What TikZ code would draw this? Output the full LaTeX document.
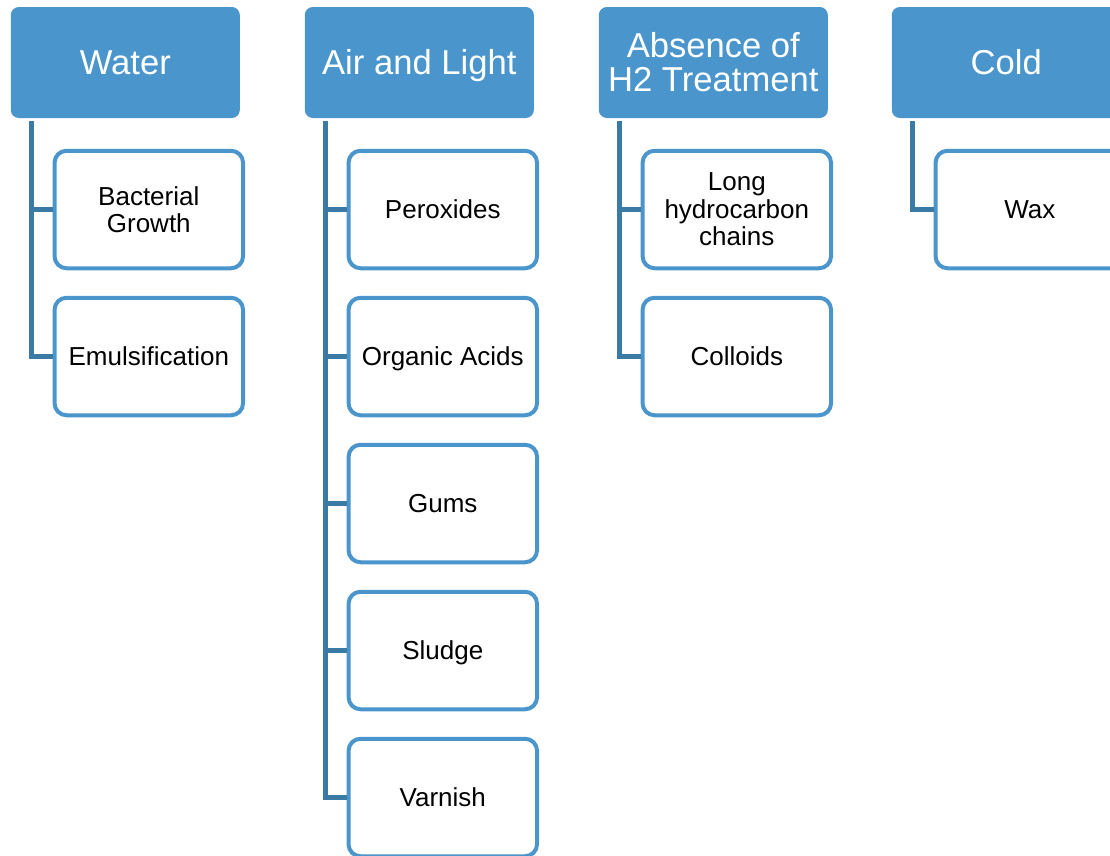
\documentclass[tikz,border=0pt]{standalone}
\usepackage{fontspec}
\setmainfont{Liberation Sans}
\usetikzlibrary{positioning}
\definecolor{headblue}{RGB}{74,150,204}
\definecolor{linkblue}{RGB}{60,122,166}

\begin{document}
\begin{tikzpicture}[x=1pt,y=-1pt,
  head/.style={rectangle,rounded corners=8pt,fill=headblue,draw=none,text=white,minimum width=229pt,minimum height=111pt,inner sep=0pt,align=center,font=\fontsize{34.6}{34}\selectfont},
  headone/.style={head,execute at begin node=\rule[-8pt]{0pt}{40.8pt},execute at end node=\rule[-8pt]{0pt}{40.8pt}},
  item/.style={rectangle,rounded corners=12pt,fill=white,draw=headblue,line width=4pt,minimum width=188.5pt,minimum height=117.5pt,inner sep=0pt,align=center,font=\fontsize{26}{27.5}\selectfont},
  itemone/.style={item,execute at begin node=\rule[-6pt]{0pt}{30.6pt},execute at end node=\rule[-6pt]{0pt}{30.6pt}},
  link/.style={draw=linkblue,line width=5pt}]
\useasboundingbox (0,0) rectangle (1110,855);
\clip (0,0) rectangle (1110,855);

% headers
\node[headone] (W) at (125.3,62.5) {Water};
\node[headone] (A) at (419.3,62.5) {Air and Light};
\node[head] (H) at (713.3,62.5) {Absence of\\H2 Treatment};
\node[headone] (C) at (1006.3,62.5) {Cold};

% children
\node[item] (W1) at (148.8,209.5) {Bacterial\\Growth};
\node[itemone] (W2) at (148.8,356.5) {Emulsification};
\node[itemone] (A1) at (442.8,209.5) {Peroxides};
\node[itemone] (A2) at (442.8,356.5) {Organic Acids};
\node[itemone] (A3) at (442.8,503.5) {Gums};
\node[itemone] (A4) at (442.8,650.5) {Sludge};
\node[itemone] (A5) at (442.8,797.5) {Varnish};
\node[item] (H1) at (736.8,209.5) {Long\\hydrocarbon\\chains};
\node[itemone] (H2) at (736.8,356.5) {Colloids};
\node[itemone] (C1) at (1029.8,209.5) {Wax};

% connectors
\coordinate (Wtop) at ([xshift=20.5pt,yshift=-3pt]W.south west);
\coordinate (Atop) at ([xshift=20.5pt,yshift=-3pt]A.south west);
\coordinate (Htop) at ([xshift=20.5pt,yshift=-3pt]H.south west);
\coordinate (Ctop) at ([xshift=20.5pt,yshift=-3pt]C.south west);
\draw[link] (Wtop) |- (W1.west);
\draw[link] (Wtop) |- (W2.west);
\draw[link] (Atop) |- (A1.west);
\draw[link] (Atop) |- (A2.west);
\draw[link] (Atop) |- (A3.west);
\draw[link] (Atop) |- (A4.west);
\draw[link] (Atop) |- (A5.west);
\draw[link] (Htop) |- (H1.west);
\draw[link] (Htop) |- (H2.west);
\draw[link] (Ctop) |- (C1.west);

\end{tikzpicture}
\end{document}
